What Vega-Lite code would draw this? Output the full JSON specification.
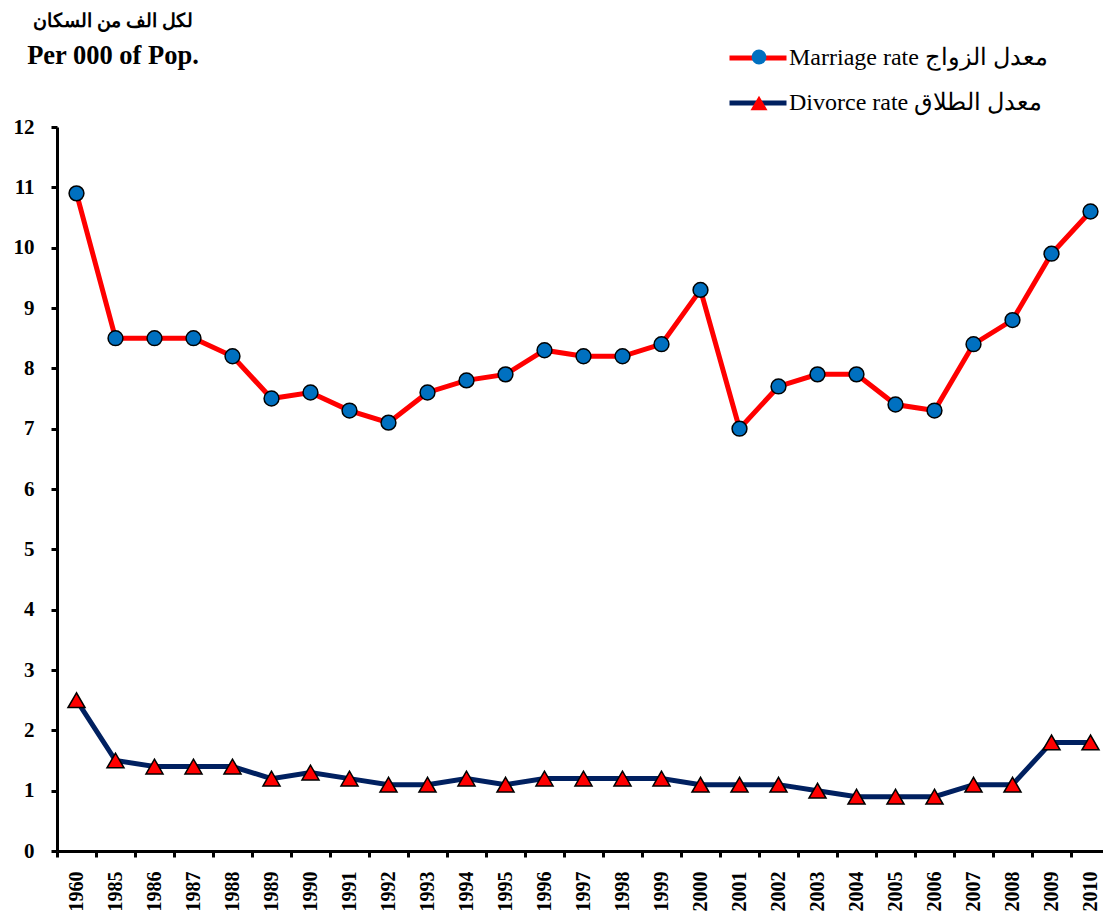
{
  "$schema": "https://vega.github.io/schema/vega-lite/v6.json",
  "autosize": "none",
  "width": 1046,
  "height": 724,
  "padding": {"left": 57, "top": 127, "right": 0, "bottom": 64},
  "background": "white",
  "config": {
    "view": {"stroke": null},
    "font": "Liberation Serif"
  },
  "title": {
    "text": "لكل الف من السكان",
    "subtitle": "Per 000 of Pop.",
    "anchor": "start",
    "align": "center",
    "frame": "group",
    "dx": 56,
    "offset": -42,
    "font": "Liberation Serif",
    "fontSize": 19,
    "fontWeight": "bold",
    "color": "black",
    "subtitleFont": "Liberation Serif",
    "subtitleFontSize": 26.5,
    "subtitleFontWeight": "bold",
    "subtitleColor": "black",
    "subtitlePadding": 12
  },
  "data": {
    "values": [
      {"year": "1960", "marriage": 10.9, "divorce": 2.5},
      {"year": "1985", "marriage": 8.5, "divorce": 1.5},
      {"year": "1986", "marriage": 8.5, "divorce": 1.4},
      {"year": "1987", "marriage": 8.5, "divorce": 1.4},
      {"year": "1988", "marriage": 8.2, "divorce": 1.4},
      {"year": "1989", "marriage": 7.5, "divorce": 1.2},
      {"year": "1990", "marriage": 7.6, "divorce": 1.3},
      {"year": "1991", "marriage": 7.3, "divorce": 1.2},
      {"year": "1992", "marriage": 7.1, "divorce": 1.1},
      {"year": "1993", "marriage": 7.6, "divorce": 1.1},
      {"year": "1994", "marriage": 7.8, "divorce": 1.2},
      {"year": "1995", "marriage": 7.9, "divorce": 1.1},
      {"year": "1996", "marriage": 8.3, "divorce": 1.2},
      {"year": "1997", "marriage": 8.2, "divorce": 1.2},
      {"year": "1998", "marriage": 8.2, "divorce": 1.2},
      {"year": "1999", "marriage": 8.4, "divorce": 1.2},
      {"year": "2000", "marriage": 9.3, "divorce": 1.1},
      {"year": "2001", "marriage": 7.0, "divorce": 1.1},
      {"year": "2002", "marriage": 7.7, "divorce": 1.1},
      {"year": "2003", "marriage": 7.9, "divorce": 1.0},
      {"year": "2004", "marriage": 7.9, "divorce": 0.9},
      {"year": "2005", "marriage": 7.4, "divorce": 0.9},
      {"year": "2006", "marriage": 7.3, "divorce": 0.9},
      {"year": "2007", "marriage": 8.4, "divorce": 1.1},
      {"year": "2008", "marriage": 8.8, "divorce": 1.1},
      {"year": "2009", "marriage": 9.9, "divorce": 1.8},
      {"year": "2010", "marriage": 10.6, "divorce": 1.8}
    ]
  },
  "encoding": {
    "x": {
      "field": "year",
      "type": "ordinal",
      "sort": null,
      "scale": {"paddingInner": 0, "paddingOuter": 0, "range": [0, 1053]},
      "axis": {
        "title": null,
        "tickBand": "extent",
        "domainColor": "black",
        "domainWidth": 3,
        "tickColor": "black",
        "tickWidth": 3,
        "tickSize": 6,
        "labelAngle": -90,
        "labelAlign": "right",
        "labelBaseline": "middle",
        "labelPadding": 14,
        "labelFont": "Liberation Serif",
        "labelFontWeight": "bold",
        "labelFontSize": 20,
        "labelColor": "black"
      }
    },
    "y": {
      "field": "value",
      "type": "quantitative",
      "scale": {"domain": [0, 12], "nice": false},
      "axis": {
        "values": [0, 1, 2, 3, 4, 5, 6, 7, 8, 9, 10, 11, 12],
        "grid": false,
        "title": null,
        "domainColor": "black",
        "domainWidth": 3,
        "tickColor": "black",
        "tickWidth": 3,
        "tickSize": 6,
        "labelPadding": 17,
        "labelFont": "Liberation Serif",
        "labelFontWeight": "bold",
        "labelFontSize": 21,
        "labelColor": "black"
      }
    }
  },
  "layer": [
    {
      "transform": [{"fold": ["marriage", "divorce"], "as": ["series", "value"]}],
      "mark": {"type": "line", "strokeWidth": 5},
      "encoding": {
        "color": {
          "field": "series",
          "type": "nominal",
          "scale": {"domain": ["marriage", "divorce"], "range": ["#FF0000", "#002060"]},
          "legend": {
            "orient": "none",
            "legendX": 670,
            "legendY": -100,
            "title": null,
            "padding": 0,
            "symbolType": "stroke",
            "symbolSize": 3249,
            "symbolStrokeWidth": 5,
            "rowPadding": 2,
            "labelOffset": 0,
            "labelFont": "Liberation Serif",
            "labelFontSize": 24,
            "labelColor": "black",
            "labelLimit": 400,
            "labelExpr": "datum.label == 'marriage' ? 'Marriage rate معدل الزواج' : 'Divorce rate معدل الطلاق'"
          }
        }
      }
    },
    {
      "transform": [{"fold": ["marriage", "divorce"], "as": ["kind", "value"]}],
      "mark": {"type": "point", "filled": true, "stroke": "black", "strokeWidth": 1.5, "opacity": 1},
      "encoding": {
        "shape": {
          "field": "kind",
          "type": "nominal",
          "scale": {"domain": ["divorce", "marriage"], "range": ["triangle-up", "circle"]},
          "legend": {
            "orient": "none",
            "legendX": 690,
            "legendY": -82,
            "title": null,
            "padding": 0,
            "values": ["marriage", "divorce"],
            "symbolStrokeColor": "black",
            "symbolStrokeWidth": 1.5,
            "rowPadding": 22,
            "labelFontSize": 24,
            "labelColor": "transparent",
            "labelExpr": "''"
          }
        },
        "fill": {
          "field": "kind",
          "type": "nominal",
          "scale": {"domain": ["divorce", "marriage"], "range": ["#FF0000", "#0070C0"]},
          "legend": {
            "orient": "none",
            "legendX": 690,
            "legendY": -82,
            "title": null,
            "padding": 0,
            "values": ["marriage", "divorce"],
            "symbolStrokeColor": "black",
            "symbolStrokeWidth": 1.5,
            "rowPadding": 22,
            "labelFontSize": 24,
            "labelColor": "transparent",
            "labelExpr": "''"
          }
        },
        "size": {
          "field": "kind",
          "type": "nominal",
          "scale": {"domain": ["divorce", "marriage"], "range": [290, 220]},
          "legend": {
            "orient": "none",
            "legendX": 690,
            "legendY": -82,
            "title": null,
            "padding": 0,
            "values": ["marriage", "divorce"],
            "symbolStrokeColor": "black",
            "symbolStrokeWidth": 1.5,
            "rowPadding": 22,
            "labelFontSize": 24,
            "labelColor": "transparent",
            "labelExpr": "''"
          }
        }
      }
    }
  ]
}
